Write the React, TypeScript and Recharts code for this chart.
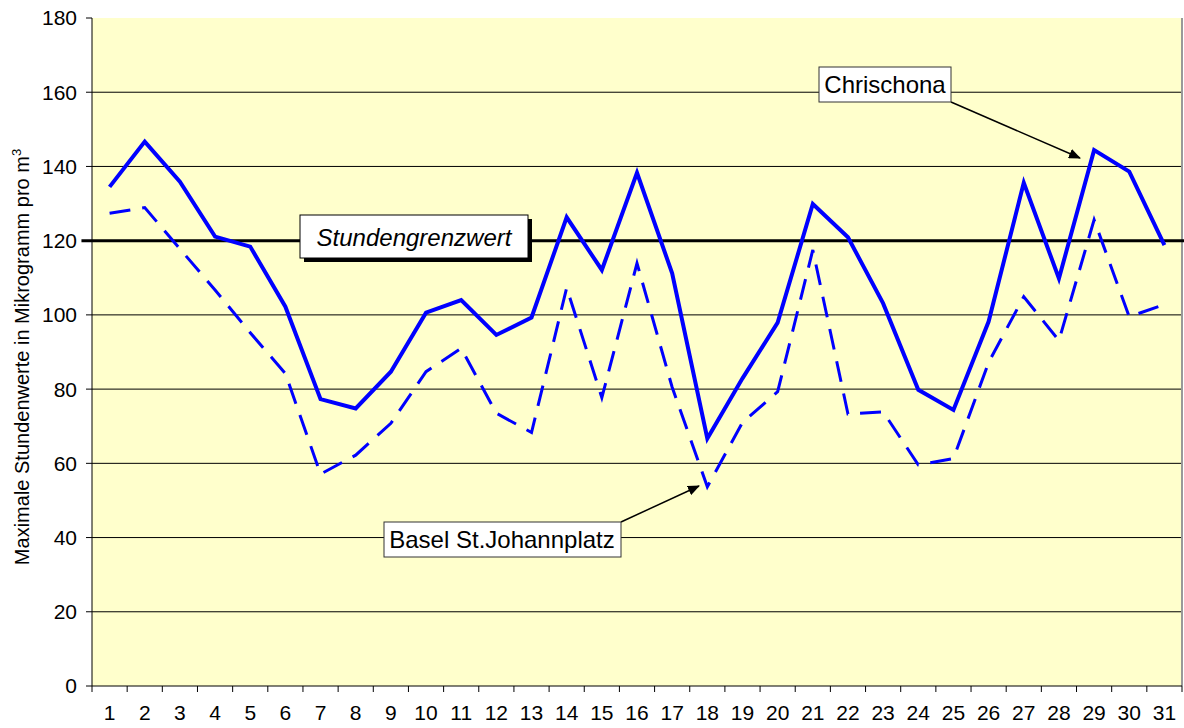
import { CartesianGrid, Line, LineChart, ReferenceLine, XAxis, YAxis } from 'recharts';

// Tage im Monat
const days = [1, 2, 3, 4, 5, 6, 7, 8, 9, 10, 11, 12, 13, 14, 15, 16, 17, 18, 19, 20, 21, 22, 23, 24, 25, 26, 27, 28, 29, 30, 31];

// Maximale Stundenwerte (µg/m³)
const chrischona = [134.5, 146.7, 135.9, 121.1, 118.4, 102.2, 77.3, 74.8, 84.7, 100.6, 104.0, 94.6, 99.3, 126.3, 112.1, 138.3, 111.2, 66.7, 82.9, 97.9, 129.9, 120.9, 103.1, 79.8, 74.4, 98.2, 135.6, 109.8, 144.4, 138.6, 118.8];
const basel = [127.4, 128.9, 117.8, 106.7, 95.2, 84.2, 57.1, 62.2, 70.8, 84.7, 91.0, 73.5, 68.3, 107.3, 77.7, 113.9, 80.5, 53.7, 71.0, 79.3, 117.5, 73.3, 73.9, 59.6, 61.3, 87.2, 104.9, 93.1, 125.6, 99.5, 102.8];

const yTicks = [0, 20, 40, 60, 80, 100, 120, 140, 160, 180];
const gridValues = [20, 40, 60, 80, 100, 120, 140, 160];
const grenzwert = 120;

const data = days.map((day, i) => ({ day, chrischona: chrischona[i], basel: basel[i] }));

const FONT = '"Liberation Sans", Arial, sans-serif';

function DayTick(props: any) {
  const { x, y, payload, index, width, visibleTicksCount } = props;
  const half = (width ?? 1090) / days.length / 2;
  return (
    <g>
      <line x1={x - half} y1={y} x2={x - half} y2={y + 6} stroke="#000" />
      {index === visibleTicksCount - 1 && (
        <line x1={x + half} y1={y} x2={x + half} y2={y + 6} stroke="#000" />
      )}
      <text x={x} y={y} dy={34} textAnchor="middle" fontSize={21} fill="#000" fontFamily={FONT}>
        {payload.value}
      </text>
    </g>
  );
}

export default function App() {
  return (
    <div style={{ position: 'absolute', left: 0, top: 0, width: 1184, height: 728, background: '#fff', fontFamily: FONT }}>
      <LineChart width={1184} height={728} data={data} margin={{ top: 18, right: 2, left: 0, bottom: 0 }}>
        <CartesianGrid vertical={false} stroke="#000" fill="#FFFFCC" horizontalValues={gridValues} />
        <XAxis
          dataKey="day"
          type="number"
          domain={[0.5, 31.5]}
          ticks={days}
          interval={0}
          height={42}
          tickLine={false}
          tickSize={0}
          tickMargin={0}
          axisLine={{ stroke: '#000' }}
          tick={<DayTick />}
        />
        <YAxis
          domain={[0, 180]}
          ticks={yTicks}
          interval={0}
          width={92}
          tickSize={6}
          tickMargin={9}
          axisLine={{ stroke: '#000' }}
          tickLine={{ stroke: '#000' }}
          tick={{ fill: '#000', fontSize: 21, fontFamily: FONT }}
        />
        <ReferenceLine x={31.5} stroke="#999" strokeWidth={2} ifOverflow="visible" />
        <ReferenceLine
          segment={[{ x: 0.2, y: grenzwert }, { x: 31.6, y: grenzwert }]}
          stroke="#000"
          strokeWidth={3}
          ifOverflow="visible"
        />
        <Line
          type="linear"
          dataKey="basel"
          stroke="#0000FF"
          strokeWidth={3}
          strokeDasharray="21 12"
          dot={false}
          isAnimationActive={false}
        />
        <Line
          type="linear"
          dataKey="chrischona"
          stroke="#0000FF"
          strokeWidth={4}
          dot={false}
          isAnimationActive={false}
        />
      </LineChart>

      {/* Beschriftungen */}
      <svg width={1184} height={728} style={{ position: 'absolute', left: 0, top: 0, pointerEvents: 'none' }}>
        <defs>
          <marker id="arrow" markerWidth="12" markerHeight="10" refX="11" refY="5" orient="auto" markerUnits="userSpaceOnUse">
            <path d="M0,0 L12,5 L0,10 z" fill="#000" />
          </marker>
        </defs>
        <text transform="translate(29,357) rotate(-90)" textAnchor="middle" fontSize={20} fill="#000" fontFamily={FONT}>
          Maximale Stundenwerte in Mikrogramm pro m<tspan dy={-8} fontSize={13}>3</tspan>
        </text>

        <rect x={304} y={219} width={228} height={43} fill="#000" />
        <rect x={300} y={215} width={228} height={43} fill="#fff" stroke="#000" strokeWidth={1} />
        <text x={414} y={246} textAnchor="middle" fontSize={24} fontStyle="italic" fill="#000" fontFamily={FONT}>
          Stundengrenzwert
        </text>

        <line x1={951} y1={102} x2={1080} y2={158} stroke="#000" strokeWidth={1.5} markerEnd="url(#arrow)" />
        <rect x={819} y={67} width={132} height={35} fill="#fff" stroke="#333" strokeWidth={1} />
        <text x={885} y={93} textAnchor="middle" fontSize={24} fill="#000" fontFamily={FONT}>
          Chrischona
        </text>

        <line x1={621} y1={522} x2={699} y2={486} stroke="#000" strokeWidth={1.5} markerEnd="url(#arrow)" />
        <rect x={384} y={522} width={237} height={35} fill="#fff" stroke="#333" strokeWidth={1} />
        <text x={502} y={548} textAnchor="middle" fontSize={24} fill="#000" fontFamily={FONT}>
          Basel St.Johannplatz
        </text>
      </svg>
    </div>
  );
}
